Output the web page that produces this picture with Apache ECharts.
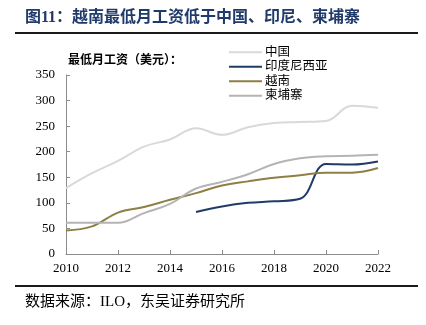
<!DOCTYPE html>
<html>
<head>
<meta charset="utf-8">
<script src="https://cdn.jsdelivr.net/npm/echarts@6/dist/echarts.min.js"></script>
<style>
  html, body { margin: 0; padding: 0; background: #fff; }
  #chart { width: 426px; height: 325px; }
</style>
</head>
<body>
<div id="chart"></div>
<script>
// Minimum monthly wage (USD), annual values
const years = [2010, 2011, 2012, 2013, 2014, 2015, 2016, 2017, 2018, 2019, 2020, 2021, 2022];
const china = [129, 158, 182, 210, 224, 246, 233, 248, 256, 258, 260, 290, 286];
const indonesiaYears = [2015, 2016, 2017, 2018, 2019, 2020, 2021, 2022];
const indonesia = [82, 93, 100, 103, 108, 176, 175, 181];
const vietnam = [46, 54, 81, 92, 106, 119, 134, 142, 149, 154, 159, 159, 168];
const cambodia = [61, 61, 61, 80, 98, 128, 141, 156, 176, 187, 191, 192, 194];
const yTicks = [0, 50, 100, 150, 200, 250, 300, 350];

const seriesNames = ['中国', '印度尼西亚', '越南', '柬埔寨'];
const seriesColors = ['#d9d9d9', '#1f3b68', '#8e7f45', '#b4b4b4'];

const pair = (xs, ys) => xs.map((x, i) => [x, ys[i]]);

const serifFont = '"Liberation Serif", "Noto Sans CJK SC", serif';

const chart = echarts.init(document.getElementById('chart'), null, { renderer: 'canvas' });

const lineSeries = [
  pair(years, china),
  pair(indonesiaYears, indonesia),
  pair(years, vietnam),
  pair(years, cambodia)
].map((data, i) => ({
  name: seriesNames[i],
  type: 'line',
  data: data,
  smooth: 0.4,
  showSymbol: false,
  symbol: 'none',
  lineStyle: { width: 2, color: seriesColors[i] },
  itemStyle: { color: seriesColors[i] },
  z: i === 0 ? 1 : 2
}));

chart.setOption({
  animation: false,
  backgroundColor: '#ffffff',
  grid: { left: 66, right: 48, top: 75, bottom: 71 },
  legend: {
    orient: 'vertical',
    left: 229,
    top: 46,
    padding: 0,
    itemWidth: 33,
    itemHeight: 2,
    itemGap: 2,
    icon: 'rect',
    textStyle: { fontFamily: serifFont, fontSize: 12.5, color: '#000', padding: [0, 0, 0, -2] },
    data: seriesNames
  },
  xAxis: {
    type: 'value',
    min: 2010,
    max: 2022,
    interval: 2,
    axisLine: { show: true, lineStyle: { color: '#8c8c8c', width: 1 } },
    axisTick: { show: true, inside: true, length: 4, lineStyle: { color: '#8c8c8c' } },
    splitLine: { show: false },
    axisLabel: { fontFamily: serifFont, fontSize: 13, color: '#000', margin: 8, formatter: v => String(v) }
  },
  yAxis: {
    type: 'value',
    min: yTicks[0],
    max: yTicks[yTicks.length - 1],
    interval: 50,
    axisLine: { show: true, lineStyle: { color: '#8c8c8c', width: 1 } },
    axisTick: { show: true, inside: true, length: 4, lineStyle: { color: '#8c8c8c' } },
    splitLine: { show: false },
    axisLabel: { fontFamily: serifFont, fontSize: 13, color: '#000', margin: 11 }
  },
  graphic: [
    {
      type: 'text', left: 25, top: 10,
      style: {
        text: '图11：越南最低月工资低于中国、印尼、柬埔寨',
        font: 'bold 16px "Liberation Serif", "Noto Sans CJK SC"',
        fill: '#1f3a6b'
      }
    },
    { type: 'rect', shape: { x: 15, y: 32, width: 403, height: 2 }, style: { fill: '#1a1a1a' } },
    {
      type: 'text', left: 68, top: 55,
      style: {
        text: '最低月工资（美元）：',
        font: 'bold 12px "Liberation Serif", "Noto Sans CJK SC"',
        fill: '#000'
      }
    },
    { type: 'rect', shape: { x: 15, y: 285, width: 403, height: 2 }, style: { fill: '#1a1a1a' } },
    {
      type: 'text', left: 25, top: 295,
      style: {
        text: '数据来源：ILO，东吴证券研究所',
        font: '15px "Liberation Serif", "Noto Sans CJK SC"',
        fill: '#000'
      }
    }
  ],
  series: lineSeries
});
</script>
</body>
</html>
